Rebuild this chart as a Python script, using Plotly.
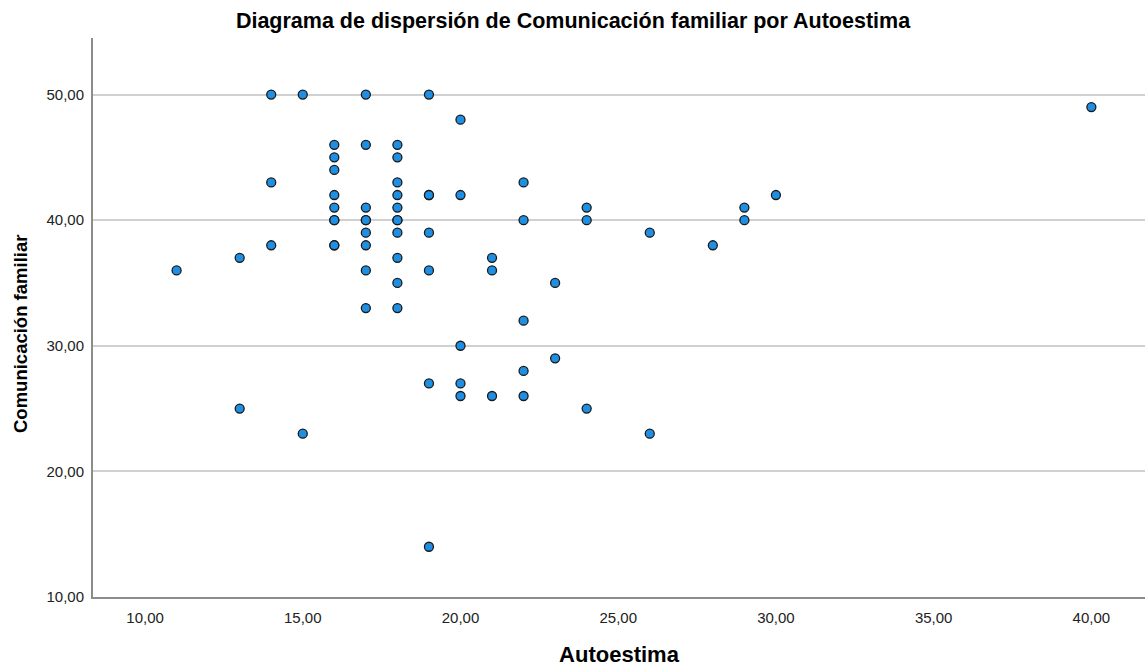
import plotly.graph_objects as go

# Autoestima (x) and Comunicación familiar (y)
autoestima = [
    11,
    13, 13,
    14, 14, 14,
    15, 15,
    16, 16, 16, 16, 16, 16, 16, 16, 16,
    17, 17, 17, 17, 17, 17, 17, 17, 17,
    18, 18, 18, 18, 18, 18, 18, 18, 18, 18, 18,
    19, 19, 19, 19, 19, 19, 19,
    20, 20, 20, 20, 20,
    21, 21, 21,
    22, 22, 22, 22, 22,
    23, 23,
    24, 24, 24,
    26, 26,
    28,
    29, 29,
    30,
    40,
]
comunicacion = [
    36,
    37, 25,
    50, 43, 38,
    50, 23,
    46, 45, 44, 42, 41, 40, 40, 38, 38,
    50, 46, 41, 40, 40, 39, 38, 36, 33,
    46, 45, 43, 42, 41, 40, 40, 39, 37, 35, 33,
    50, 42, 42, 39, 36, 27, 14,
    48, 42, 30, 27, 26,
    37, 36, 26,
    43, 40, 32, 28, 26,
    35, 29,
    41, 40, 25,
    39, 23,
    38,
    41, 40,
    42,
    49,
]

x_ticks = [10, 15, 20, 25, 30, 35, 40]
y_ticks = [10, 20, 30, 40, 50]

FONT = "Liberation Sans, Arial, sans-serif"

fig = go.Figure(
    go.Scatter(
        x=autoestima,
        y=comunicacion,
        mode="markers",
        marker=dict(size=9, color="#1f8fe3", line=dict(color="#1a1a1a", width=1.3)),
        showlegend=False,
        hoverinfo="x+y",
    )
)

fig.update_layout(
    width=1146,
    height=668,
    paper_bgcolor="white",
    plot_bgcolor="white",
    separators=",.",
    margin=dict(l=93, r=1, t=38, b=71),
    title=dict(
        text="<b>Diagrama de dispersión de Comunicación familiar por Autoestima</b>",
        x=573 / 1146,
        xanchor="center",
        xref="container",
        y=1 - 20 / 668,
        yanchor="middle",
        yref="container",
        font=dict(family=FONT, size=21.5, color="#000000"),
    ),
    font=dict(family=FONT, color="#222222"),
    annotations=[
        dict(
            text="<b>Comunicación familiar</b>",
            textangle=-90,
            xref="paper",
            yref="paper",
            x=(20 - 93) / 1052,
            y=(597 - 334) / 559,
            xanchor="center",
            yanchor="middle",
            showarrow=False,
            font=dict(family=FONT, size=18.5, color="#000000"),
        )
    ],
)

fig.update_xaxes(
    range=[8.35, 41.7],
    tickvals=x_ticks,
    tickformat=".2f",
    showgrid=False,
    zeroline=False,
    showline=True,
    linecolor="#8c8c8c",
    linewidth=2,
    ticks="",
    automargin=False,
    ticklabelstandoff=6,
    tickfont=dict(family=FONT, size=15, color="#222222"),
    title=dict(text="<b>Autoestima</b>", font=dict(family=FONT, size=22, color="#000000"), standoff=22),
)

fig.update_yaxes(
    range=[10, 54.5],
    tickvals=y_ticks,
    tickformat=".2f",
    showgrid=True,
    gridcolor="#d0d0d0",
    gridwidth=1.5,
    zeroline=False,
    showline=True,
    linecolor="#8c8c8c",
    linewidth=2,
    ticks="",
    automargin=False,
    ticklabelstandoff=4,
    tickfont=dict(family=FONT, size=15, color="#222222"),
)

fig.write_html(
    "out.html",
    config={"displayModeBar": False},
    post_script="document.body.style.margin='0px';",
)
